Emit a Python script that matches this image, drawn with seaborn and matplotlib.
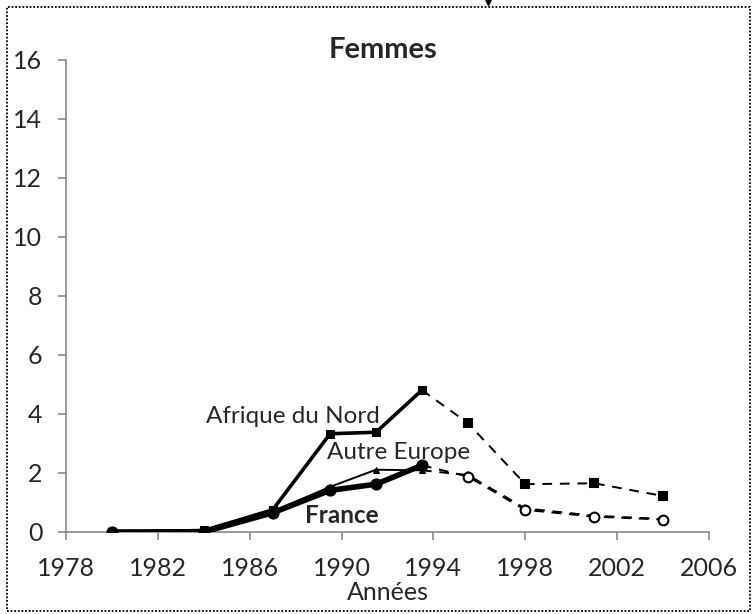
import numpy as np
import pandas as pd
import matplotlib.pyplot as plt
import seaborn as sns
from matplotlib.patches import Rectangle
from matplotlib.lines import Line2D

# values (taux, femmes)
years = [1980, 1984, 1987, 1989.5, 1991.5, 1993.5, 1995.5, 1998, 2001, 2004]
afrique = [0.0, 0.05, 0.75, 3.33, 3.38, 4.81, 3.69, 1.62, 1.65, 1.22]
autre_europe = [0.0, 0.05, 0.7, 1.53, 2.11, 2.09, 1.93, 0.8, 0.55, 0.44]
france = [0.0, 0.0, 0.65, 1.41, 1.62, 2.26, 1.88, 0.75, 0.52, 0.42]
split_year = 1993.5

sns.set_style('white')
plt.rcParams['font.family'] = ['Lato', 'DejaVu Sans']

df = pd.DataFrame({'annee': years, 'Afrique du Nord': afrique,
                   'Autre Europe': autre_europe, 'France': france})
solid = df[df['annee'] <= split_year]
dashed = df[df['annee'] >= split_year]

fig = plt.figure(figsize=(7.52, 6.14), dpi=100)
ax = fig.add_axes([0.0878, 0.1336, 0.855, 0.7687])

styles = {
    'Afrique du Nord': dict(marker='s', lw=2.6, ms=6),
    'Autre Europe': dict(marker='^', lw=1.4, ms=5),
    'France': dict(marker='o', lw=4.0, ms=8),
}
for name, st in styles.items():
    sns.lineplot(x='annee', y=name, data=solid, ax=ax, color='black',
                 lw=st['lw'], marker=st['marker'], markersize=st['ms'],
                 markeredgecolor='black', zorder=3)
    face = 'white' if name == 'France' else 'black'
    d = dashed.iloc[1:]
    sns.lineplot(x='annee', y=name, data=dashed, ax=ax, color='black',
                 lw=1.4, linestyle=(0, (5, 4)), zorder=2)
    ax.plot(d['annee'], d[name], linestyle='none', marker=st['marker'],
            markersize=st['ms'] if name != 'France' else 7,
            markerfacecolor=face, markeredgecolor='black', mew=1.5, zorder=4)

ax.set_xlim(1978, 2006)
ax.set_ylim(0, 16)
ax.set_xticks(np.arange(1978, 2007, 4))
ax.set_yticks(np.arange(0, 17, 2))
ax.tick_params(axis='both', labelsize=18, length=6, width=1.2, color='#898989',
               direction='out', left=True, bottom=True)
ax.tick_params(axis='x', pad=12)
ax.tick_params(axis='y', pad=11)
for side in ['top', 'right']:
    ax.spines[side].set_visible(False)
for side in ['left', 'bottom']:
    ax.spines[side].set_color('#898989')
    ax.spines[side].set_linewidth(1.2)

ax.set_xlabel('Années', fontsize=18, labelpad=1)
ax.set_ylabel('')
fig.text(0.509, 0.9055, 'Femmes', fontsize=21, fontweight='bold',
         ha='center', va='baseline')

ax.text(1984.1, 3.68, 'Afrique du Nord', fontsize=17.5, va='baseline', ha='left')
ax.text(1989.35, 2.46, 'Autre Europe', fontsize=17.5, va='baseline', ha='left')
ax.text(1988.4, 0.29, 'France', fontsize=17.5, fontweight='bold', va='baseline', ha='left')

fig.patches.append(Rectangle((0.0093, 0.0049), 0.988, 0.9837, transform=fig.transFigure,
                             fill=False, lw=1.3, linestyle=(0, (1, 1)), color='black'))
fig.lines.append(Line2D([488 / 752], [1 - 2 / 614], transform=fig.transFigure,
                        marker='v', ms=4, color='black', linestyle='none'))

plt.savefig('out.png', dpi=100)
